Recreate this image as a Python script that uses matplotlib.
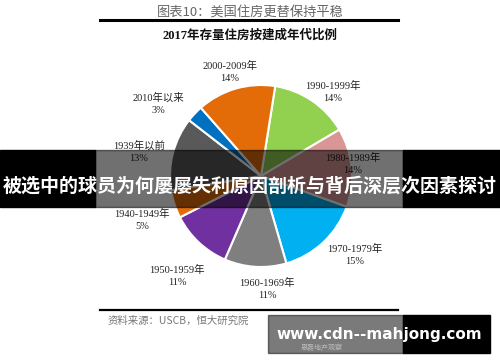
import matplotlib
matplotlib.use('Agg')
import matplotlib.pyplot as plt
from matplotlib.patches import Rectangle

# 数据：2017年存量住房按建成年代比例（从顶部顺时针）
periods = ['1990-1999年', '1980-1989年', '1970-1979年', '1960-1969年', '1950-1959年',
           '1940-1949年', '1939年以前', '2010年以来', '2000-2009年']
shares = [14, 14, 15, 11, 11, 5, 13, 3, 14]
colors = ['#92D050', '#D99694', '#00B0F0', '#7F7F7F', '#7030A0',
          '#E36C09', '#595959', '#0070C0', '#E36C09']
# 标签位置（像素，左上为原点）
label_pos = [(333, 92), (353, 164), (355, 255), (267, 289), (177, 276),
             (142, 220), (139, 152), (158, 104), (230, 72)]

W, H = 500, 362
serif = ['Liberation Serif', 'Noto Sans CJK SC']
cjk = ['Noto Sans CJK SC', 'DejaVu Sans']

fig = plt.figure(figsize=(5.0, 3.62), dpi=100)
ax = fig.add_axes([0, 0, 1, 1])

# 饼图
ax.pie(shares, colors=colors, startangle=81, counterclock=False,
       center=(261, H - 176), radius=91, frame=True,
       wedgeprops=dict(edgecolor='white', linewidth=1.5))
ax.set_xlim(0, W)
ax.set_ylim(0, H)
ax.set_aspect('equal')
ax.axis('off')

for name, v, (x, y) in zip(periods, shares, label_pos):
    ax.text(x, H - y, f'{name}\n{v}%', ha='center', va='center', fontsize=7.5,
            family=serif, color='#222222', linespacing=1.45)

# 标题
ax.text(250, H - 12, '图表10：美国住房更替保持平稳', ha='center', va='center',
        fontsize=9.5, family=cjk, color='#666666')
ax.plot([100, 398], [H - 19.5, H - 19.5], color='black', lw=2.2)
ax.text(250, H - 36, '2017年存量住房按建成年代比例', ha='center', va='center',
        fontsize=9, family=serif, fontweight='bold', color='#111111')

# 底部来源
ax.plot([100, 398], [H - 310, H - 310], color='black', lw=1.6)
ax.text(108, H - 321, '资料来源：USCB，恒大研究院', ha='left', va='center',
        fontsize=7.5, family=cjk, color='#777777', style='italic')
ax.text(322, H - 348, '思磊地产观察', ha='center', va='center',
        fontsize=5, family=cjk, color='#bbbbbb', zorder=7)

# 中间横幅
ax.add_patch(Rectangle((0, H - 207), 95, 57, color='black', zorder=5))
ax.add_patch(Rectangle((95, H - 207), 308, 57, color='black', alpha=0.56, zorder=5))
ax.add_patch(Rectangle((403, H - 207), 97, 57, color='black', zorder=5))
ax.text(250, H - 186, '被选中的球员为何屡屡失利原因剖析与背后深层次因素探讨',
        ha='center', va='center', fontsize=13.7, family=cjk, fontweight='bold',
        color='white', zorder=6)

# 水印
ax.add_patch(Rectangle((268, H - 353), 135, 38, color='black', alpha=0.52, zorder=5))
ax.add_patch(Rectangle((403, H - 353), 87, 38, color='black', zorder=5))
ax.text(379, H - 334, 'www.cdn--mahjong.com', ha='center', va='center',
        fontsize=11, family='DejaVu Sans', fontweight='bold', color='white', zorder=6)

fig.savefig('out.png', dpi=100)
